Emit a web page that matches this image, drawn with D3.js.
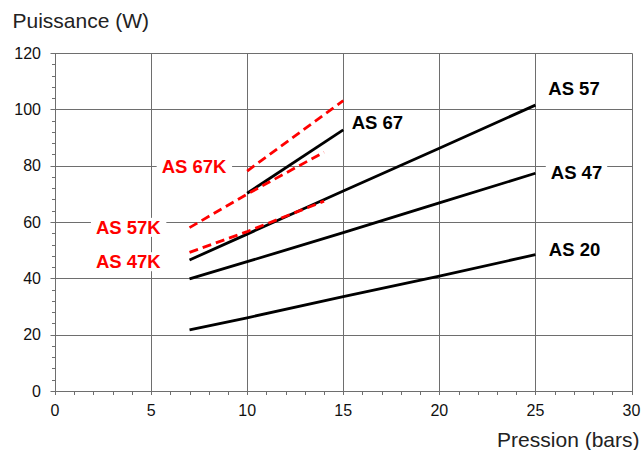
<!DOCTYPE html>
<html>
<head>
<meta charset="utf-8">
<script src="https://cdn.jsdelivr.net/npm/d3@7"></script>
<style>
  body { margin: 0; background: #fff; }
  text { font-family: "Liberation Sans", Arial, sans-serif; }
</style>
</head>
<body>
<svg width="642" height="450"></svg>
<script>
// Pressure points (bars) and power readings (W)
const pressures = [7, 10, 15, 20, 25];
const as20 = [21.7, 26.0, 33.5, 40.8, 48.4];
const as47 = [39.8, 45.9, 56.2, 66.8, 77.3];
const as57 = [46.5, 55.7, 71.0, 86.2, 101.5];

const as67Pressures = [10, 15];
const as67 = [70.2, 92.7];
const as67K = [78.1, 103.1];

const kPressures = [7, 10, 14];
const as47K = [49.2, 56.6, 67.4];
const as57K = [58.0, 69.9, 84.8];

const xTicks = [0, 5, 10, 15, 20, 25, 30];
const yTicks = [0, 20, 40, 60, 80, 100, 120];

const svg = d3.select('svg');

const x = d3.scaleLinear().domain([0, 30]).range([55, 631.5]);
const y = d3.scaleLinear().domain([0, 120]).range([391, 53]);

const px = v => Math.round(x(v)) + 0.5;
const py = v => Math.round(y(v)) + 0.5;

// grid
const grid = svg.append('g').attr('stroke', '#6e6e6e').attr('stroke-width', 1);
grid.selectAll('.gx').data(xTicks).join('line')
  .attr('x1', d => px(d)).attr('x2', d => px(d))
  .attr('y1', py(0) + 3.5).attr('y2', py(120));
grid.selectAll('.gy').data(yTicks).join('line')
  .attr('x1', px(0) - 5).attr('x2', px(30))
  .attr('y1', d => py(d)).attr('y2', d => py(d));

// minor ticks
grid.selectAll('.mx').data(d3.range(1, 30).filter(d => d % 5)).join('line')
  .attr('x1', d => px(d)).attr('x2', d => px(d))
  .attr('y1', py(0)).attr('y2', py(0) + 3.5);
grid.selectAll('.my').data(d3.range(4, 120, 4).filter(d => d % 20)).join('line')
  .attr('x1', px(0) - 3.5).attr('x2', px(0))
  .attr('y1', d => py(d)).attr('y2', d => py(d));

// tick labels
svg.append('g').selectAll('text').data(xTicks).join('text')
  .attr('x', d => x(d)).attr('y', 416)
  .attr('text-anchor', 'middle')
  .attr('font-size', 16).attr('fill', '#111')
  .text(d => d);
svg.append('g').selectAll('text').data(yTicks).join('text')
  .attr('x', 41).attr('y', d => y(d) + 5.5)
  .attr('text-anchor', 'end')
  .attr('font-size', 16).attr('fill', '#111')
  .text(d => d);

// axis titles
svg.append('text')
  .attr('x', 12.5).attr('y', 27.5)
  .attr('font-size', 21).attr('fill', '#222')
  .text('Puissance (W)');
svg.append('text')
  .attr('x', 639.5).attr('y', 447)
  .attr('text-anchor', 'end')
  .attr('font-size', 21).attr('fill', '#222')
  .text('Pression (bars)');

// series
const series = [
  { name: 'AS 20', xs: pressures, ys: as20, color: '#000', dash: null, lx: 25.7, ly: 50.3 },
  { name: 'AS 47', xs: pressures, ys: as47, color: '#000', dash: null, lx: 25.8, ly: 77.5 },
  { name: 'AS 57', xs: pressures, ys: as57, color: '#000', dash: null, lx: 25.67, ly: 107.5 },
  { name: 'AS 67', xs: as67Pressures, ys: as67, color: '#000', dash: null, lx: 15.44, ly: 95.3 },
  { name: 'AS 47K', xs: kPressures, ys: as47K, color: '#f00', dash: '9,5', lx: 2.13, ly: 45.9 },
  { name: 'AS 57K', xs: kPressures, ys: as57K, color: '#f00', dash: '9,5', lx: 2.13, ly: 58.1 },
  { name: 'AS 67K', xs: as67Pressures, ys: as67K, color: '#f00', dash: '9,5', lx: 5.55, ly: 79.6 }
];

const line = d3.line().x(d => x(d[0])).y(d => y(d[1]));

// labels with white boxes
const labels = svg.append('g');
series.forEach(s => {
  const t = labels.append('text')
    .attr('x', x(s.lx)).attr('y', y(s.ly) + 6.5)
    .attr('font-size', 18.5).attr('font-weight', 'bold')
    .attr('fill', s.color)
    .text(s.name);
  const b = t.node().getBBox();
  labels.insert('rect', () => t.node())
    .attr('x', b.x - 5).attr('y', b.y + 1)
    .attr('width', b.width + 10).attr('height', b.height - 2)
    .attr('fill', '#fff');
});

svg.append('g').selectAll('path').data(series).join('path')
  .attr('d', s => line(s.xs.map((v, i) => [v, s.ys[i]])))
  .attr('fill', 'none')
  .attr('stroke', s => s.color)
  .attr('stroke-width', 2.8)
  .attr('stroke-dasharray', s => s.dash);
</script>
</body>
</html>
